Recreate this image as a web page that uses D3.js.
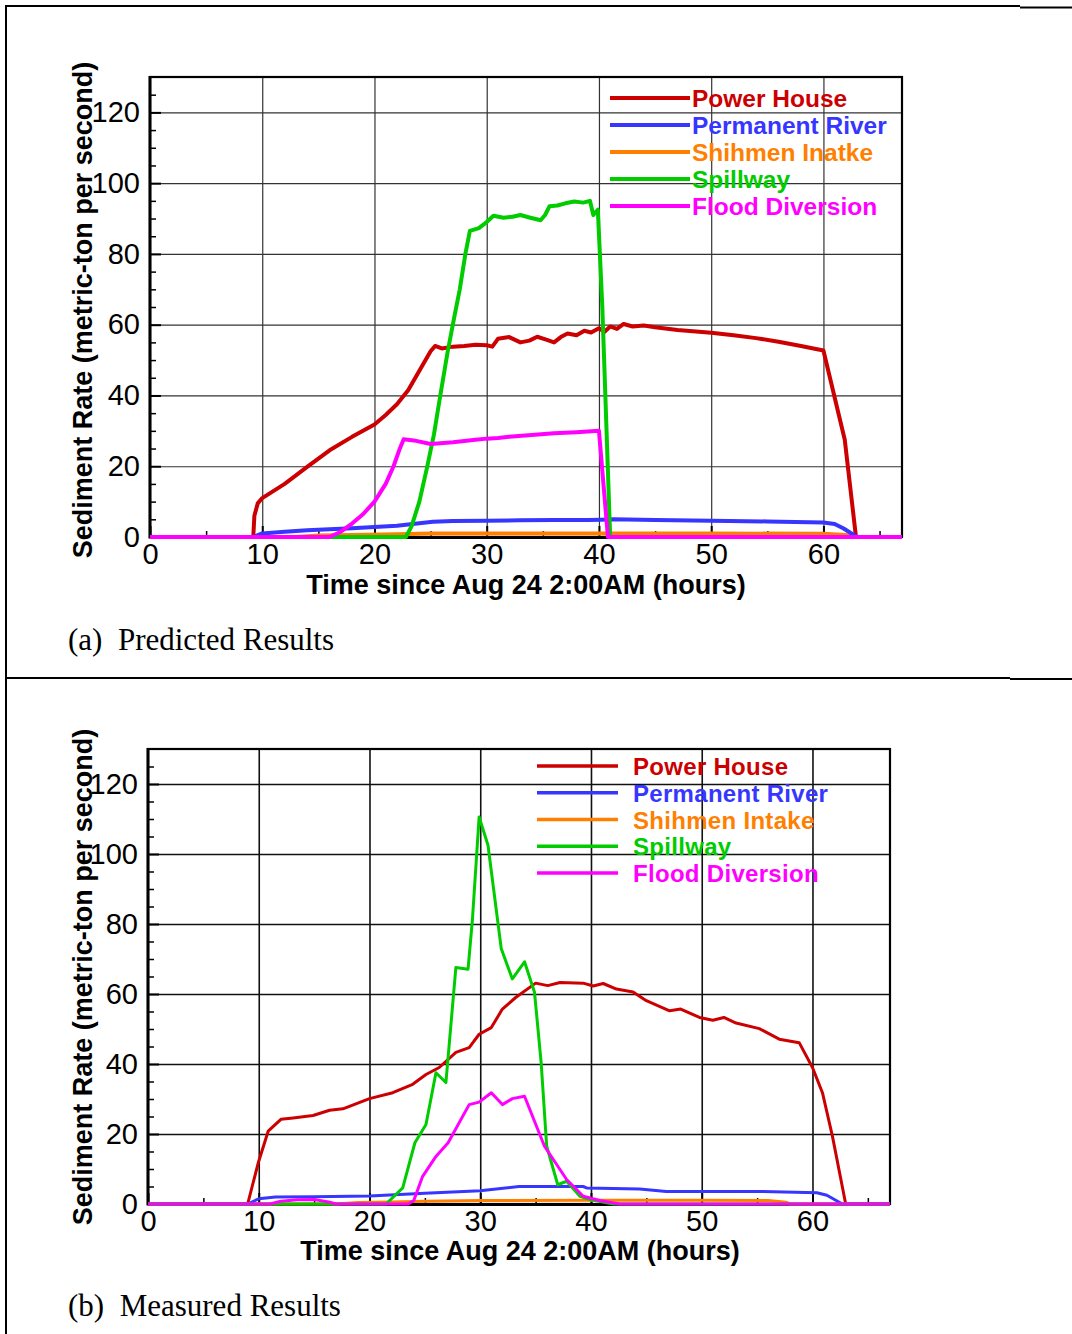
<!DOCTYPE html>
<html>
<head>
<meta charset="utf-8">
<script src="https://cdn.jsdelivr.net/npm/d3@7"></script>
<style>
  html, body { margin: 0; padding: 0; background: #fff; }
  svg { display: block; }
  .tick text { font-family: "Liberation Sans", Arial, sans-serif; }
</style>
</head>
<body>
<svg id="fig" width="1072" height="1334"></svg>
<script>
// ---- Series names and colours -------------------------------------------
const predictedNames = ["Power House", "Permanent River", "Shihmen Inatke", "Spillway", "Flood Diversion"];
const measuredNames  = ["Power House", "Permanent River", "Shihmen Intake", "Spillway", "Flood Diversion"];
const seriesColors   = ["#cc0000", "#3636ff", "#ff8000", "#00cc00", "#ff00ff"];

// ---- Axis ticks ---------------------------------------------------------
const xMajorTicks = [0, 10, 20, 30, 40, 50, 60];
const xMinorTicks = [5, 15, 25, 35, 45, 55, 65];
const yMajorTicks = [0, 20, 40, 60, 80, 100, 120];
const yMinorTicks = [5, 10, 15, 25, 30, 35, 45, 50, 55, 65, 70, 75, 85, 90, 95, 105, 110, 115, 125];
const xDomain = [0, 67];
const yDomain = [0, 130];

// ---- Predicted sediment rates, [hour, metric-ton per second] ------------
const predPowerHouse = [[0,0],[9.2,0],[9.3,6],[9.6,9.5],[10,11],[12,15],[14,19.8],[16,24.5],[18,28.3],[20,31.8],
  [21,34.5],[22,37.5],[23,41.5],[24,47],[25,52.5],[25.4,54],[26,53.3],[27,53.8],[28,54],[29,54.3],[30,54.2],
  [30.5,53.8],[31,56],[32,56.5],[33,55],[33.8,55.5],[34.5,56.6],[35.3,55.8],[36,55],[36.6,56.5],[37.2,57.5],
  [38,57],[38.7,58.3],[39.3,57.8],[40,59],[40.5,58],[41,59.5],[41.6,58.8],[42.2,60.2],[43,59.5],[44,59.8],
  [45,59.3],[47,58.5],[50,57.7],[52,57],[54,56.2],[56,55.2],[58,54],[60,52.7],[61.9,27.5],[62.9,0],[67,0]];
const predPermanentRiver = [[0,0],[9.2,0],[10,1],[12,1.5],[14,1.9],[16,2.2],[18,2.5],[20,2.8],[22,3.2],[24,3.9],
  [25.2,4.3],[27,4.5],[30,4.6],[33,4.7],[36,4.8],[39,4.8],[40.2,4.9],[41.3,5.0],[45,4.8],[50,4.6],[55,4.4],
  [60,4.1],[61,3.7],[61.8,2.4],[62.5,1.0],[63,0],[67,0]];
const predShihmen = [[0,0],[13,0],[15,0.4],[18,0.6],[22,0.8],[25,1.0],[40,1.0],[50,1.0],[60,0.9],[62,0.6],[63,0],[67,0]];
const predSpillway = [[0,0],[22.8,0],[23.3,3],[24,10],[24.7,19.9],[25.3,29],[25.8,38.8],[26.5,52],[27.1,62],
  [27.6,70],[28.1,80],[28.5,86.5],[29.3,87.3],[30,89],[30.6,90.8],[31.5,90.2],[32.3,90.5],[33,91],[33.8,90.3],
  [34.8,89.5],[35.2,91],[35.6,93.5],[36.3,93.7],[37,94.3],[37.8,94.8],[38.6,94.5],[39.2,95],[39.5,91],
  [39.9,92.5],[40.3,65],[41,0],[67,0]];
const predFloodDiversion = [[0,0],[16,0],[17,1.5],[18,3.8],[19,6.5],[20,10],[21,15],[21.7,20],[22.2,24.5],
  [22.6,27.6],[23.5,27.3],[25,26.3],[27,26.8],[29,27.5],[30,27.8],[31,28],[32,28.3],[34,28.8],[36,29.3],
  [38,29.6],[40,30],[40.8,0],[67,0]];

// ---- Measured sediment rates, [hour, metric-ton per second] -------------
const measPowerHouse = [[0,0],[9,0],[9.95,11.7],[10.85,20.8],[12,24.2],[13.1,24.6],[14.9,25.3],[16.4,26.8],
  [17.6,27.2],[20,30.1],[22.1,31.8],[23.9,34.2],[25.1,37],[26.3,39],[27.8,43.3],[29,44.7],[29.9,48.5],[31,50.4],
  [32,55.7],[33.2,59],[35,63.1],[36.1,62.4],[37.2,63.3],[39.3,63.1],[40.2,62.3],[41.1,63],[42.3,61.4],
  [43.8,60.6],[45,58.1],[47.1,55.2],[48.1,55.7],[49.8,53.3],[51,52.5],[52,53.3],[53.1,51.7],[55.2,50.1],
  [57,47.1],[58.8,46.1],[60,39],[60.9,31.8],[61.8,19.4],[63,0],[67,0]];
const measPermanentRiver = [[0,0],[9,0],[10,1.5],[11.5,2],[15,2.1],[20,2.3],[25,3.1],[30,3.8],[33.5,5],
  [39.3,5],[39.6,4.6],[44.4,4.3],[46.8,3.6],[55.5,3.6],[60.4,3.2],[61.3,2.5],[62.7,0],[67,0]];
const measShihmen = [[0,0],[17,0],[19,0.4],[22,0.6],[25,0.8],[30,1.0],[40,1.1],[50,1.1],[56,1.0],[57.6,0.5],[58,0],[67,0]];
const measSpillway = [[0,0],[21.5,0],[23,4.6],[24.1,17.5],[25.1,22.7],[26,37.5],[26.9,34.7],[27.8,67.6],
  [28.9,67.1],[29.3,81.5],[29.9,110.6],[30.7,102.5],[31.9,72.9],[32.9,64.3],[34,69.2],[34.9,60.5],[35.5,40.4],
  [36,16.5],[37,5.5],[37.8,6.5],[39,2.2],[40,1.2],[42,0],[67,0]];
const measFloodDiversion = [[0,0],[11,0],[12,0.8],[13.5,1.2],[15,1.3],[16.3,0.6],[17,0],[23.5,0],[24,1],
  [24.8,7.9],[26,13.6],[27.1,17.5],[29,28.4],[29.9,29.1],[31,31.8],[32,28.4],[32.9,30.1],[34,30.8],[35.8,16.5],
  [37.8,7],[39.3,2.2],[40.8,1],[42.6,0],[67,0]];

const yTitle = "Sediment Rate (metric-ton per second)";
const xTitle = "Time since Aug 24 2:00AM (hours)";

const svg = d3.select("#fig");
const SANS = '"Liberation Sans", Arial, sans-serif';
const SERIF = '"Liberation Serif", "Times New Roman", serif';

// ---- Table-like frame around the two figure cells -----------------------
const frame = svg.append("g").attr("stroke", "#000").attr("stroke-width", 2);
frame.append("line").attr("x1", 6).attr("x2", 6).attr("y1", 5).attr("y2", 1334);
frame.append("line").attr("x1", 5).attr("x2", 1020).attr("y1", 6).attr("y2", 6);
frame.append("line").attr("x1", 1020).attr("x2", 1072).attr("y1", 7.5).attr("y2", 7.5);
frame.append("line").attr("x1", 5).attr("x2", 1010).attr("y1", 678).attr("y2", 678);
frame.append("line").attr("x1", 1010).attr("x2", 1072).attr("y1", 679).attr("y2", 679);

function drawPanel(cfg) {
  const x = d3.scaleLinear().domain(xDomain).range([cfg.left, cfg.right]);
  const y = d3.scaleLinear().domain(yDomain).range([cfg.bottom, cfg.top]);
  const g = svg.append("g");
  const w = cfg.right - cfg.left, h = cfg.bottom - cfg.top;

  // grid
  g.append("g").attr("transform", `translate(0,${cfg.bottom})`)
    .call(d3.axisBottom(x).tickValues(xMajorTicks.slice(1)).tickSize(-h).tickFormat(""))
    .call(s => s.select(".domain").remove())
    .call(s => s.selectAll("line").attr("stroke", cfg.gridColor).attr("stroke-width", cfg.gridWidth));
  g.append("g").attr("transform", `translate(${cfg.left},0)`)
    .call(d3.axisLeft(y).tickValues(yMajorTicks.slice(1)).tickSize(-w).tickFormat(""))
    .call(s => s.select(".domain").remove())
    .call(s => s.selectAll("line").attr("stroke", cfg.gridColor).attr("stroke-width", cfg.gridWidth));

  // minor ticks (inward)
  g.append("g").attr("transform", `translate(0,${cfg.bottom})`)
    .call(d3.axisBottom(x).tickValues(xMinorTicks).tickSize(-6).tickFormat(""))
    .call(s => s.select(".domain").remove())
    .call(s => s.selectAll("line").attr("stroke", "#000").attr("stroke-width", 1.5));
  g.append("g").attr("transform", `translate(${cfg.left},0)`)
    .call(d3.axisLeft(y).tickValues(yMinorTicks).tickSize(-6).tickFormat(""))
    .call(s => s.select(".domain").remove())
    .call(s => s.selectAll("line").attr("stroke", "#000").attr("stroke-width", 1.5));

  // major ticks + labels
  g.append("g").attr("transform", `translate(0,${cfg.bottom})`)
    .call(d3.axisBottom(x).tickValues(xMajorTicks).tickSize(-11).tickPadding(6).tickFormat(d3.format("d")))
    .call(s => s.select(".domain").remove())
    .call(s => s.selectAll("line").attr("stroke", "#000").attr("stroke-width", 2))
    .call(s => s.selectAll("text").attr("font-size", 29).attr("fill", "#000"));
  g.append("g").attr("transform", `translate(${cfg.left},0)`)
    .call(d3.axisLeft(y).tickValues(yMajorTicks).tickSize(-11).tickPadding(10).tickFormat(d3.format("d")))
    .call(s => s.select(".domain").remove())
    .call(s => s.selectAll("line").attr("stroke", "#000").attr("stroke-width", 2))
    .call(s => s.selectAll("text").attr("font-size", 29).attr("fill", "#000"));

  // plot frame
  g.append("rect").attr("x", cfg.left).attr("y", cfg.top).attr("width", w).attr("height", h)
    .attr("fill", "none").attr("stroke", "#000").attr("stroke-width", 2.2);
  g.append("line").attr("x1", cfg.left).attr("x2", cfg.left).attr("y1", cfg.top - 1).attr("y2", cfg.bottom + 1.5)
    .attr("stroke", "#000").attr("stroke-width", 3);
  g.append("line").attr("x1", cfg.left).attr("x2", cfg.right).attr("y1", cfg.bottom + 0.5).attr("y2", cfg.bottom + 0.5)
    .attr("stroke", "#000").attr("stroke-width", 3);

  // data lines
  const line = d3.line().x(d => x(d[0])).y(d => y(d[1]));
  const order = [0, 2, 1, 3, 4];
  order.forEach(i => {
    g.append("path").datum(cfg.series[i]).attr("d", line)
      .attr("fill", "none").attr("stroke", seriesColors[i]).attr("stroke-width", cfg.lineWidth)
      .attr("stroke-linejoin", "round").attr("stroke-linecap", "butt");
  });

  // legend
  const lg = g.append("g");
  cfg.names.forEach((name, i) => {
    const ly = cfg.legendY + i * cfg.legendStep;
    lg.append("line").attr("x1", cfg.legendX1).attr("x2", cfg.legendX2).attr("y1", ly).attr("y2", ly)
      .attr("stroke", seriesColors[i]).attr("stroke-width", cfg.legendLineWidth);
    lg.append("text").attr("x", cfg.legendTextX).attr("y", ly + cfg.legendTextDy)
      .attr("font-family", SANS).attr("font-weight", "bold").attr("font-size", cfg.legendFont)
      .attr("letter-spacing", cfg.legendSpacing)
      .attr("fill", seriesColors[i]).text(name);
  });

  // axis titles
  g.append("text").attr("transform", `translate(${cfg.yTitleX},${cfg.yTitleY}) rotate(-90)`)
    .attr("text-anchor", "middle").attr("font-family", SANS).attr("font-weight", "bold")
    .attr("font-size", 27).text(yTitle);
  g.append("text").attr("x", cfg.xTitleX).attr("y", cfg.xTitleY)
    .attr("text-anchor", "middle").attr("font-family", SANS).attr("font-weight", "bold")
    .attr("font-size", 27).text(xTitle);

  // caption
  g.append("text").attr("x", 68).attr("y", cfg.captionY)
    .attr("font-family", SERIF).attr("font-size", 31).attr("fill", "#000")
    .style("white-space", "pre").text(cfg.caption);
}

drawPanel({
  left: 150, right: 902, top: 77, bottom: 537,
  series: [predPowerHouse, predPermanentRiver, predShihmen, predSpillway, predFloodDiversion],
  names: predictedNames,
  gridColor: "#333", gridWidth: 1.2, lineWidth: 4,
  legendX1: 610, legendX2: 690, legendTextX: 692, legendY: 98, legendStep: 27,
  legendTextDy: 8.5, legendFont: 24.5, legendSpacing: 0, legendLineWidth: 4,
  yTitleX: 92, yTitleY: 310, xTitleX: 526, xTitleY: 594,
  caption: "(a)  Predicted Results", captionY: 650
});

drawPanel({
  left: 148, right: 890, top: 749, bottom: 1204,
  series: [measPowerHouse, measPermanentRiver, measShihmen, measSpillway, measFloodDiversion],
  names: measuredNames,
  gridColor: "#111", gridWidth: 1.6, lineWidth: 3,
  legendX1: 537, legendX2: 618, legendTextX: 633, legendY: 766, legendStep: 26.75,
  legendTextDy: 9, legendFont: 24, legendSpacing: 0.3, legendLineWidth: 3.3,
  yTitleX: 92, yTitleY: 977, xTitleX: 520, xTitleY: 1260,
  caption: "(b)  Measured Results", captionY: 1316
});
</script>
</body>
</html>
